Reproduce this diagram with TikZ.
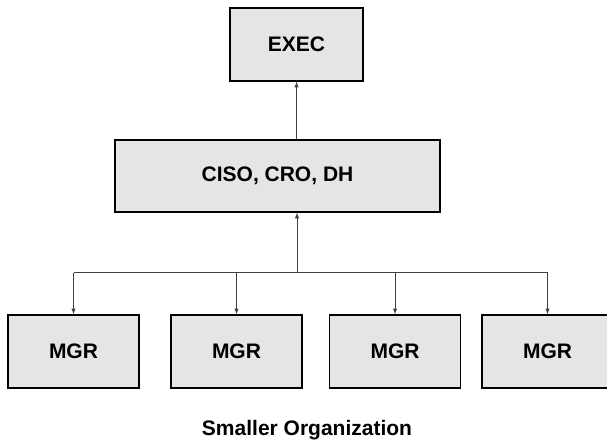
\documentclass[tikz,border=0pt]{standalone}
\usepackage{fontspec}
\setmainfont{Liberation Sans}
\usepackage{tikz}
\usetikzlibrary{arrows,positioning,calc}

\begin{document}
\begin{tikzpicture}[
    x=1pt, y=-1pt,
    font=\fontsize{21}{25}\selectfont\bfseries,
    orgbox/.style={rectangle, draw, fill=black!10, line width=1.3pt, inner sep=0pt},
    mgrbox/.style={orgbox, minimum width=131pt, minimum height=73pt},
    flow/.style={->, >=latex, black!75, line width=1pt},
    bus/.style={black!75, line width=1pt},
    ttl/.style={font=\fontsize{21}{25}\selectfont\bfseries}
]
\useasboundingbox (0,0) rectangle (607,443);
% ----- top levels -----
\node[orgbox, minimum width=133pt, minimum height=73pt] (exec) at (296.5,44.5) {EXEC};
\node[orgbox, minimum width=325pt, minimum height=72pt] (mid) at (277.5,176) {CISO, CRO, DH};
% ----- managers -----
\node[mgrbox] (m1) at (73.5,351.5) {MGR};
\node[mgrbox] (m2) at (236.5,351.5) {MGR};
\node[mgrbox] (m3) at (395,351.5) {MGR};
\node[mgrbox] (m4) at (547.5,351.5) {MGR};
\node[ttl] (title) at (307,430) {Smaller Organization};
% ----- connectors -----
\coordinate (bus) at (297,273);
\draw[bus] (m1 |- bus) -- (m4 |- bus);
\foreach \m in {m1,m2,m3,m4} \draw[flow] (\m |- bus) -- (\m.north);
\draw[flow] (bus) -- (bus |- mid.south);
\draw[flow] (mid.north -| exec) -- (exec.south);
\end{tikzpicture}
\end{document}
